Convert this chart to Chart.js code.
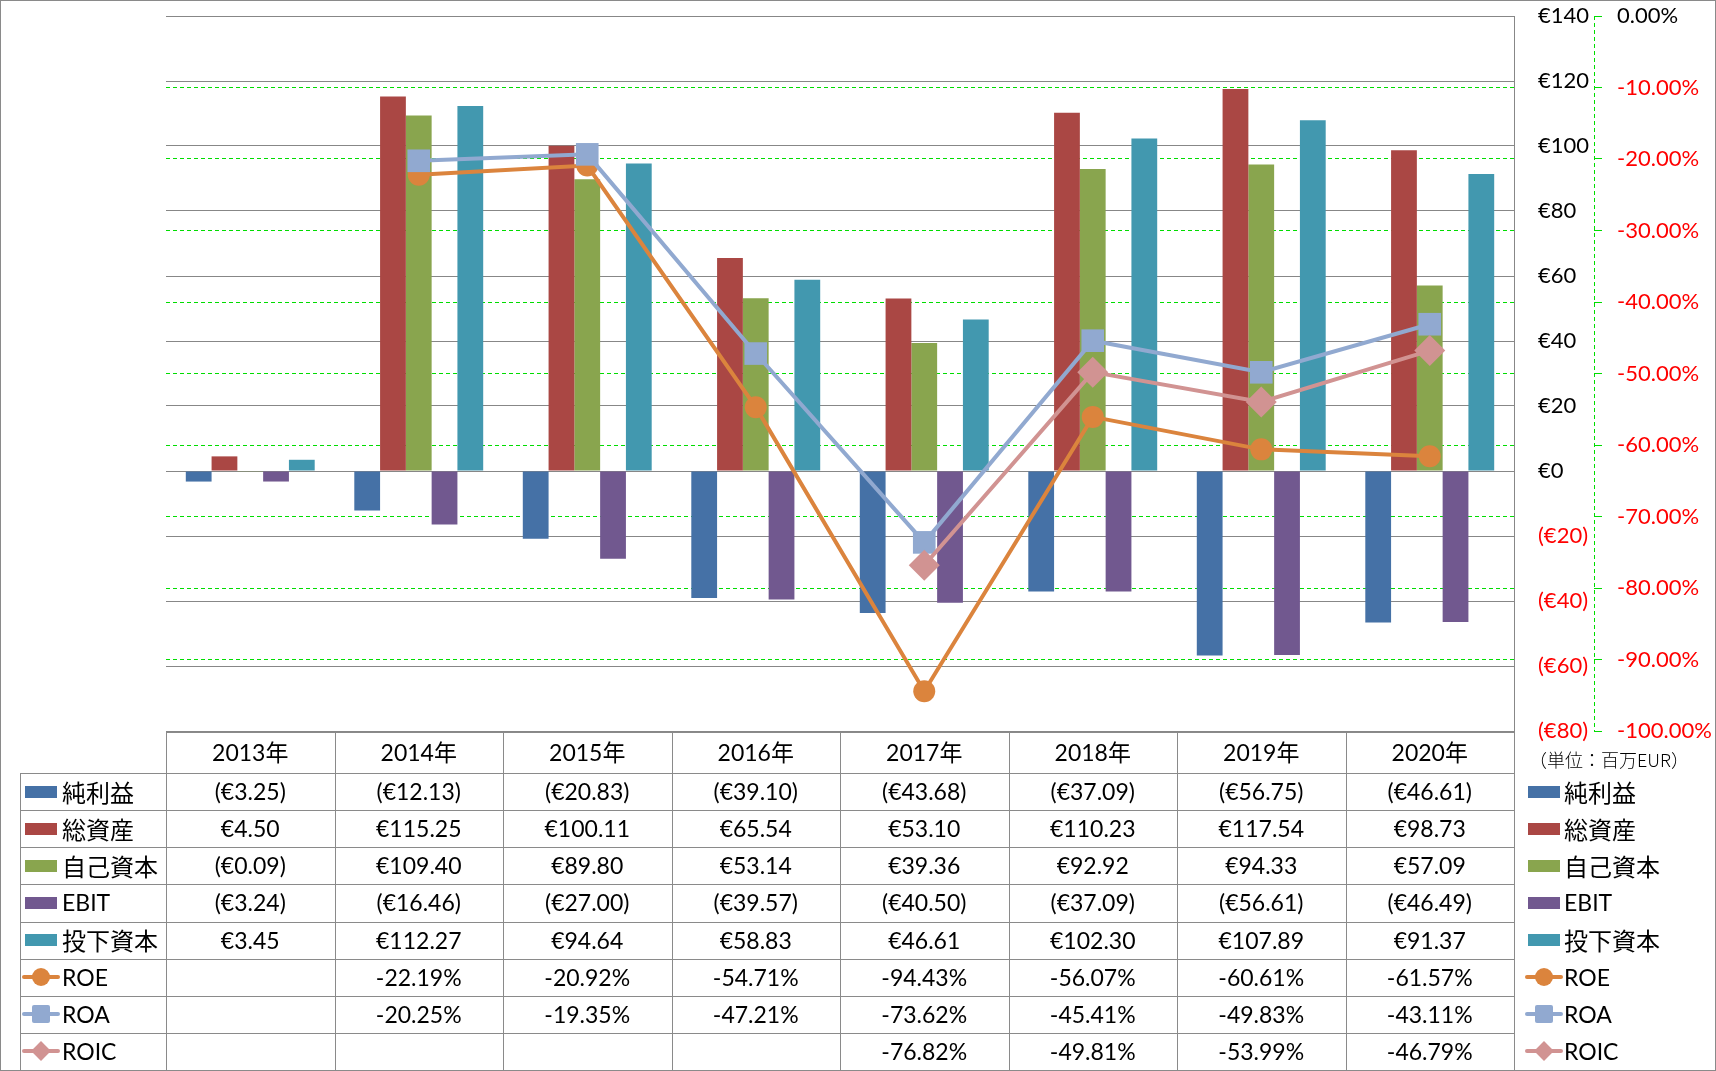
<!DOCTYPE html>
<html><head><meta charset="utf-8">
<script src="https://cdn.jsdelivr.net/npm/chart.js@4.4.1/dist/chart.umd.min.js"></script>
<style>
html,body{margin:0;padding:0;background:#fff;}
#wrap{position:relative;width:1716px;height:1071px;overflow:hidden;font-family:Lato,'Noto Sans CJK JP',sans-serif;color:#000;}
#c{position:absolute;left:0;top:0;}
#frame{position:absolute;left:0;top:0;width:1714px;height:1069px;border:1px solid #8a8a8a;pointer-events:none;}
.ln{position:absolute;background:#8a8a8a;}
.txt{position:absolute;white-space:nowrap;display:flex;align-items:center;font-size:23px;line-height:1;}
.ctr{justify-content:center;}
.cjk{font-family:'Noto Sans CJK JP',sans-serif;font-size:24px;}
.ico{position:absolute;}
</style></head>
<body>
<div id="wrap">
<canvas id="c" width="1716" height="1071"></canvas>
<div id="tbl"></div>
<div id="frame"></div>
</div>
<script>
// ---- data ----
const categories = ['2013年','2014年','2015年','2016年','2017年','2018年','2019年','2020年'];
const netIncome       = [-3.25, -12.13, -20.83, -39.10, -43.68, -37.09, -56.75, -46.61];
const totalAssets     = [4.50, 115.25, 100.11, 65.54, 53.10, 110.23, 117.54, 98.73];
const equity          = [-0.09, 109.40, 89.80, 53.14, 39.36, 92.92, 94.33, 57.09];
const ebit            = [-3.24, -16.46, -27.00, -39.57, -40.50, -37.09, -56.61, -46.49];
const investedCapital = [3.45, 112.27, 94.64, 58.83, 46.61, 102.30, 107.89, 91.37];
const roe  = [null, -22.19, -20.92, -54.71, -94.43, -56.07, -60.61, -61.57];
const roa  = [null, -20.25, -19.35, -47.21, -73.62, -45.41, -49.83, -43.11];
const roic = [null, null, null, null, -76.82, -49.81, -53.99, -46.79];
const seriesNames = ['純利益','総資産','自己資本','EBIT','投下資本','ROE','ROA','ROIC'];
const unitLabel = '（単位：百万EUR）';

// ---- styles ----
const COL = {net:'#4571A6', assets:'#AA4744', equity:'#89A54E', ebit:'#71588F', invested:'#4298AF',
             roe:'#DB843D', roa:'#91A9D0', roic:'#D19392'};
const GRID = '#878787', GREEN = '#00dd00', RED = '#ff0000';
const FONT = {family:"Lato, 'Noto Sans CJK JP', sans-serif", size:22};

const money = v => v < 0 ? '(€' + (-v).toFixed(2) + ')' : '€' + v.toFixed(2);
const moneyTick = v => v < 0 ? '(€' + (-v) + ')' : '€' + v;
const pct = v => v == null ? '' : v.toFixed(2) + '%';

const y1LinePlugin = {
  id:'y1line',
  beforeDatasetsDraw(chart){
    const s = chart.scales.y1, ctx = chart.ctx;
    ctx.save(); ctx.strokeStyle = GREEN; ctx.lineWidth = 1; ctx.setLineDash([4,3]);
    const x = Math.round(s.left) + 0.5;
    ctx.beginPath(); ctx.moveTo(x, s.top); ctx.lineTo(x, s.bottom); ctx.stroke(); ctx.restore();
  }
};

const lineDs = (label, data, color, style, r, order) => ({
  type:'line', label, data, yAxisID:'y1', order, borderColor:color, backgroundColor:color,
  borderWidth:4, pointStyle:style, pointRadius:r, pointHoverRadius:r,
  pointBackgroundColor:color, pointBorderColor:color, pointBorderWidth:0, tension:0, spanGaps:false
});
const barDs = (label, data, color) => ({type:'bar', label, data, yAxisID:'y', order:3,
  backgroundColor:color, borderWidth:0, barPercentage:1, categoryPercentage:0.765});

const fitY = w => s => { s.width = w; s.paddingTop = 0; s.paddingBottom = 0; };

const chart = new Chart(document.getElementById('c'), {
  type:'bar',
  data:{labels:categories, datasets:[
    lineDs('ROIC', roic, COL.roic, 'rectRot', 15.5, 0),
    lineDs('ROA', roa, COL.roa, 'rect', 16, 1),
    lineDs('ROE', roe, COL.roe, 'circle', 11, 2),
    barDs('純利益', netIncome, COL.net),
    barDs('総資産', totalAssets, COL.assets),
    barDs('自己資本', equity, COL.equity),
    barDs('EBIT', ebit, COL.ebit),
    barDs('投下資本', investedCapital, COL.invested)
  ]},
  options:{
    responsive:false, animation:false, devicePixelRatio:1,
    layout:{padding:{left:166, top:15, right:2, bottom:340}},
    plugins:{legend:{display:false}, tooltip:{enabled:false}},
    scales:{
      x:{display:false, offset:true, grid:{display:false}},
      y:{position:'right', weight:0, min:-80, max:140,
         ticks:{stepSize:20, callback:v => moneyTick(v), color:c => c.tick.value < 0 ? RED : '#000',
                font:FONT, crossAlign:'near', padding:24},
         grid:{color:GRID, lineWidth:1, drawTicks:false},
         border:{display:true, color:GRID, width:1},
         afterFit:fitY(80)},
      y1:{position:'right', weight:1, min:-100, max:0,
         ticks:{stepSize:10, callback:v => pct(v), color:c => c.tick.value < 0 ? RED : '#000',
                font:FONT, crossAlign:'near', padding:15},
         grid:{color:c => (c.tick && (c.tick.value === 0 || c.tick.value === -100)) ? 'rgba(0,0,0,0)' : GREEN,
               lineWidth:1, drawTicks:true, tickLength:8, tickColor:GREEN, drawOnChartArea:true},
         border:{display:false, dash:[4,3]},
         afterFit:fitY(120)}
    }
  },
  plugins:[y1LinePlugin]
});

// ---- data table ----
const tbl = document.getElementById('tbl');
const ca = chart.chartArea;
const xs = chart.scales.x;
const band = (ca.right - ca.left) / categories.length;
const top0 = Math.round(ca.bottom) + 1;     // header top
const hdrBottom = top0 + 41;
const bottom = 1070;
const rowH = (bottom - hdrBottom) / 8;
const labelLeft = 20;
const add = (html) => tbl.insertAdjacentHTML('beforeend', html);
const hline = (x1, x2, y) => add(`<div class="ln" style="left:${Math.round(x1)}px;top:${Math.round(y)}px;width:${Math.round(x2-x1)+1}px;height:1px"></div>`);
const vline = (x, y1, y2) => add(`<div class="ln" style="left:${Math.round(x)}px;top:${Math.round(y1)}px;width:1px;height:${Math.round(y2-y1)}px"></div>`);

const right = Math.round(ca.right);
hline(ca.left, right, top0);
hline(labelLeft, right, hdrBottom);
for (let i = 1; i <= 8; i++) hline(labelLeft, right, hdrBottom + i * rowH);
vline(labelLeft, hdrBottom, bottom);
for (let k = 0; k <= 8; k++) vline(ca.left + k * band, top0, bottom);

const isCjk = s => /[^\x00-\x7F€]/.test(s) && !/^[0-9]/.test(s);
// header
categories.forEach((c, i) => {
  const cx = xs.getPixelForValue(i);
  add(`<div class="txt ctr" style="left:${cx-band/2}px;width:${band}px;top:${top0}px;height:41px">${c}</div>`);
});
add(`<div class="txt" style="left:1529px;top:${top0+6}px;height:41px;font-family:'Noto Sans CJK JP';font-size:18px;font-weight:300">${unitLabel}</div>`);

const rows = [
  {name:seriesNames[0], kind:'bar', color:COL.net, values:netIncome, fmt:money},
  {name:seriesNames[1], kind:'bar', color:COL.assets, values:totalAssets, fmt:money},
  {name:seriesNames[2], kind:'bar', color:COL.equity, values:equity, fmt:money},
  {name:seriesNames[3], kind:'bar', color:COL.ebit, values:ebit, fmt:money},
  {name:seriesNames[4], kind:'bar', color:COL.invested, values:investedCapital, fmt:money},
  {name:seriesNames[5], kind:'circle', color:COL.roe, values:roe, fmt:pct},
  {name:seriesNames[6], kind:'square', color:COL.roa, values:roa, fmt:pct},
  {name:seriesNames[7], kind:'diamond', color:COL.roic, values:roic, fmt:pct}
];
function icon(kind, color, x, cy){
  if (kind === 'bar') {
    add(`<div class="ico" style="left:${x+2}px;top:${cy-6}px;width:32px;height:12px;background:${color}"></div>`);
    return;
  }
  add(`<div class="ico" style="left:${x-1}px;top:${cy-2}px;width:38px;height:4px;background:${color};border-radius:2px"></div>`);
  const mx = x + 18;
  if (kind === 'circle') add(`<div class="ico" style="left:${mx-9}px;top:${cy-9}px;width:18px;height:18px;border-radius:50%;background:${color}"></div>`);
  if (kind === 'square') add(`<div class="ico" style="left:${mx-9}px;top:${cy-9}px;width:18px;height:18px;border-radius:2px;background:${color}"></div>`);
  if (kind === 'diamond') add(`<div class="ico" style="left:${mx-7}px;top:${cy-7}px;width:14px;height:14px;background:${color};transform:rotate(45deg)"></div>`);
}
rows.forEach((r, j) => {
  const t = hdrBottom + j * rowH;
  const cy = Math.round(t + rowH / 2);
  const cls = isCjk(r.name) ? 'txt cjk' : 'txt';
  icon(r.kind, r.color, 23, cy);
  add(`<div class="${cls}" style="left:62px;top:${t}px;height:${rowH}px">${r.name}</div>`);
  icon(r.kind, r.color, 1526, cy);
  add(`<div class="${cls}" style="left:1564px;top:${t}px;height:${rowH}px">${r.name}</div>`);
  r.values.forEach((v, i) => {
    const cx = xs.getPixelForValue(i);
    add(`<div class="txt ctr" style="left:${cx-band/2}px;width:${band}px;top:${t}px;height:${rowH}px">${r.fmt(v)}</div>`);
  });
});
</script>
</body></html>
